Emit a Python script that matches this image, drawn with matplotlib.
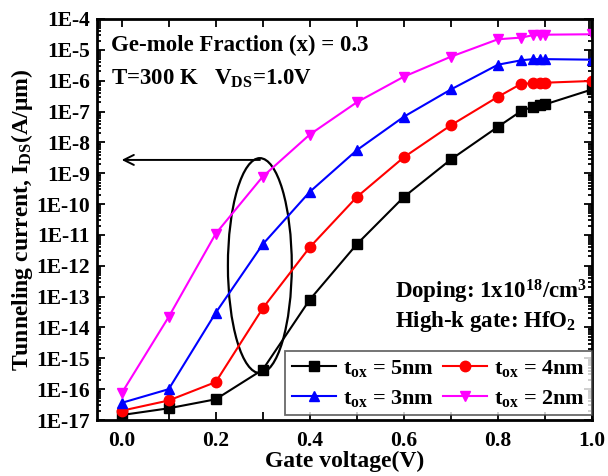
import numpy as np
import matplotlib
matplotlib.use("Agg")
import matplotlib.pyplot as plt
from matplotlib.patches import Ellipse
from matplotlib.ticker import FixedLocator, FuncFormatter, LogLocator, MultipleLocator, NullFormatter

plt.rcParams['font.family'] = ['Liberation Serif', 'DejaVu Serif']
plt.rcParams['font.weight'] = 'bold'
plt.rcParams['mathtext.fontset'] = 'custom'
plt.rcParams['mathtext.rm'] = 'Liberation Serif:bold'
plt.rcParams['mathtext.it'] = 'Liberation Serif:bold:italic'
plt.rcParams['mathtext.bf'] = 'Liberation Serif:bold'

# Gate voltage sweep (V)
vg = [0.0, 0.1, 0.2, 0.3, 0.4, 0.5, 0.6, 0.7, 0.8, 0.85, 0.875, 0.89, 0.9, 1.0]

# Tunneling current I_DS (A/um) for each oxide thickness
ids_5nm = [1.45e-17, 2.4e-17, 4.7e-17, 4.3e-16, 8e-14, 5e-12, 1.7e-10, 2.8e-9,
           3.2e-8, 1.05e-7, 1.45e-7, 1.6e-7, 1.7e-7, 5.2e-7]
ids_4nm = [2e-17, 4.3e-17, 1.7e-16, 4.2e-14, 4e-12, 1.7e-10, 3.3e-9, 3.6e-8,
           3e-7, 8e-7, 8.2e-7, 8.4e-7, 8.6e-7, 9.8e-7]
ids_3nm = [3.6e-17, 1.0e-16, 3e-14, 5e-12, 2.5e-10, 5.6e-9, 6.8e-8, 5.2e-7,
           3.3e-6, 4.6e-6, 5e-6, 5e-6, 5e-6, 4.8e-6]
ids_2nm = [7.4e-17, 2.2e-14, 1.1e-11, 7.8e-10, 1.8e-8, 2e-7, 1.35e-6, 6e-6,
           2.2e-5, 2.5e-5, 3e-5, 3e-5, 3.1e-5, 3.2e-5]

series = [
    (ids_5nm, 'black', 's', 't$_{\\mathrm{ox}}$ = 5nm'),
    (ids_4nm, 'red', 'o', 't$_{\\mathrm{ox}}$ = 4nm'),
    (ids_3nm, 'blue', '^', 't$_{\\mathrm{ox}}$ = 3nm'),
    (ids_2nm, 'magenta', 'v', 't$_{\\mathrm{ox}}$ = 2nm'),
]

fig = plt.figure(figsize=(6.08, 4.76), dpi=100)
ax = fig.add_axes([0.1595, 0.1176, 0.8142, 0.8425])

handles = []
for vals, col, mk, lab in series:
    h, = ax.plot(vg, vals, color=col, marker=mk, markersize=7.5, linewidth=1.5, label=lab)
    handles.append(h)

ax.set_yscale('log')
ax.set_xlim(-0.0525, 1.0)
ax.set_ylim(1e-17, 1e-4)

ax.xaxis.set_major_locator(FixedLocator([0.0, 0.2, 0.4, 0.6, 0.8, 1.0]))
ax.xaxis.set_minor_locator(MultipleLocator(0.1))
ax.xaxis.set_major_formatter(FuncFormatter(lambda v, p: f'{v:.1f}'))
ax.yaxis.set_major_locator(FixedLocator([10.0 ** k for k in range(-17, -3)]))
ax.yaxis.set_major_formatter(FuncFormatter(lambda v, p: f'1E{int(round(np.log10(v)))}'))
ax.yaxis.set_minor_locator(LogLocator(base=10, subs=np.arange(2, 10), numticks=100))
ax.yaxis.set_minor_formatter(NullFormatter())

ax.tick_params(which='both', direction='in', top=True, right=True, labelsize=15.5, width=1.3)
ax.tick_params(which='major', length=6)
ax.tick_params(which='minor', length=3)
ax.tick_params(axis='x', which='minor', length=6)
ax.tick_params(axis='x', pad=8)
ax.tick_params(axis='y', pad=5)
for sp in ax.spines.values():
    sp.set_linewidth(2)

ax.set_xlabel('Gate voltage(V)', fontsize=17, fontweight='bold', labelpad=0)
ax.set_ylabel('Tunneling current, I$_{\\mathrm{DS}}$(A/\u03bcm)', fontsize=17, fontweight='bold', labelpad=1)

ax.text(0.028, 0.935, 'Ge-mole Fraction (x) = 0.3', transform=ax.transAxes,
        fontsize=16.5, fontweight='bold', va='center', ha='left')
ax.text(0.028, 0.85, 'T=300 K   V$_{\\mathrm{DS}}$=1.0V', transform=ax.transAxes,
        fontsize=16.5, fontweight='bold', va='center', ha='left')
ax.text(0.602, 0.32, 'Doping: 1x10$^{18}$/cm$^{3}$', transform=ax.transAxes,
        fontsize=16.5, fontweight='bold', va='center', ha='left')
ax.text(0.602, 0.245, 'High-k gate: HfO$_{2}$', transform=ax.transAxes,
        fontsize=16.5, fontweight='bold', va='center', ha='left')

# Ellipse grouping the 0.3 V points, with an arrow pointing to the current axis
ax.add_patch(Ellipse((0.329, 0.385), 0.129, 0.536, transform=ax.transAxes,
                     fill=False, edgecolor='black', linewidth=1.6))
ax.annotate('', xy=(0.0, 2.7e-9), xytext=(0.294, 2.7e-9),
            arrowprops=dict(arrowstyle='->', color='black', linewidth=1.4,
                            mutation_scale=18, shrinkA=0, shrinkB=0))

# two columns, rows: 5nm/4nm then 3nm/2nm
order = [0, 2, 1, 3]
leg = ax.legend([handles[i] for i in order], [series[i][3] for i in order],
                ncol=2, loc='lower right', bbox_to_anchor=(1.0, 0.012),
                fontsize=16, frameon=True, fancybox=False, borderaxespad=0,
                handlelength=2.0, handletextpad=0.3, columnspacing=0.4,
                labelspacing=0.4, borderpad=0.3)
leg.get_frame().set_edgecolor('#444444')
leg.get_frame().set_linewidth(1.3)

fig.savefig('out.png', dpi=100)
